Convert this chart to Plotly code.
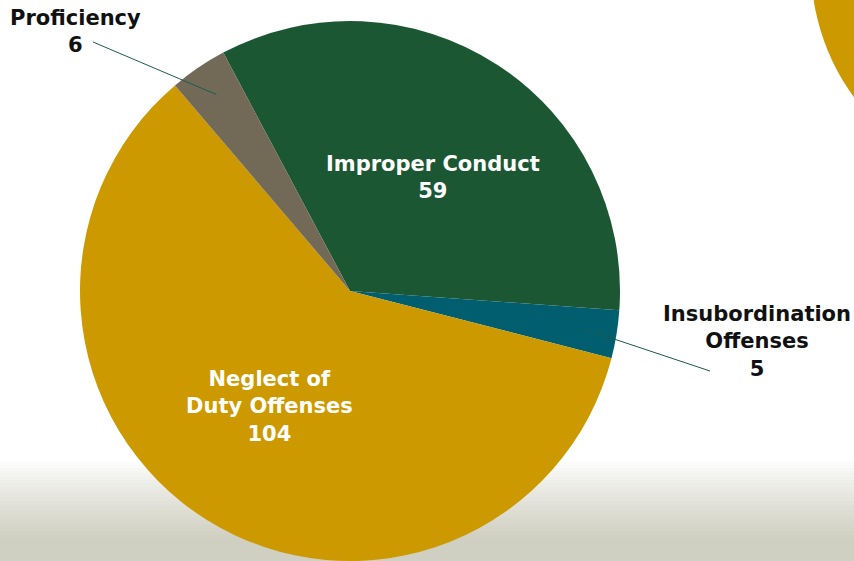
import math
import plotly.graph_objects as go

W, H = 854, 561

labels = ["Improper Conduct", "Insubordination Offenses", "Neglect of Duty Offenses", "Proficiency"]
values = [59, 5, 104, 6]
colors = ["#1c5733", "#005e6e", "#cc9900", "#726a56"]
inside_text = ["Improper Conduct<br>59", None, "Neglect of<br>Duty Offenses<br>104", None]
outside_text = [None, "Insubordination<br>Offenses<br>5", None, "Proficiency<br>6"]

ROTATION = -28  # degrees clockwise from 12 o'clock where the first slice starts

# pie geometry in pixels
CX, CY, R = 350, 291, 270
dom_x = [(CX - R) / W, (CX + R) / W]
dom_y = [1 - (CY + R) / H, 1 - (CY - R) / H]

fig = go.Figure(go.Pie(
    labels=labels,
    values=values,
    marker=dict(colors=colors, line=dict(width=0)),
    sort=False,
    direction="clockwise",
    rotation=ROTATION,
    textinfo="none",
    hoverinfo="label+value",
    showlegend=False,
    domain=dict(x=dom_x, y=dom_y),
))

FONT = "DejaVu Sans"
FSIZE = 21


def polar(angle_deg, frac):
    a = math.radians(angle_deg)
    px = CX + frac * R * math.sin(a)
    py = CY - frac * R * math.cos(a)
    return px / W, 1 - py / H


total = sum(values)
start = ROTATION
annotations = []
shapes = []

# outside label centres (px) and leader line end near the text
out_pos = {1: ((757, 341), (710, 371)), 3: ((75, 31), (93, 42))}


def bold(s):
    return "<br>".join(f"<b>{p}</b>" for p in s.split("<br>"))


for i, v in enumerate(values):
    span = v / total * 360
    mid = start + span / 2
    if inside_text[i]:
        x, y = polar(mid + 3, 0.52)
        annotations.append(dict(x=x, y=y, xref="paper", yref="paper", text=bold(inside_text[i]),
                                xanchor="center", yanchor="middle", showarrow=False,
                                font=dict(family=FONT, size=FSIZE, color="white"), align="center"))
    if outside_text[i]:
        x0, y0 = polar(mid, 0.88)
        (tx, ty), (lx, ly) = out_pos[i]
        shapes.append(dict(type="line", xref="paper", yref="paper", x0=x0, y0=y0,
                           x1=lx / W, y1=1 - ly / H, line=dict(color="#1d5a57", width=1)))
        annotations.append(dict(x=tx / W, y=1 - ty / H, xref="paper", yref="paper",
                                text=bold(outside_text[i]), xanchor="center", yanchor="middle",
                                showarrow=False, font=dict(family=FONT, size=FSIZE, color="#111111"),
                                align="center"))
    start += span

# grass-like misty band at the bottom (decorative)
bg_shapes = []
top, n = 462, 33
for k in range(n):
    t = (k + 0.5) / n
    f = min(1.0, t * 1.3) ** 0.8
    r = int(255 - f * (255 - 208))
    g = int(255 - f * (255 - 208))
    b = int(255 - f * (255 - 194))
    y0 = top + k * (H - top) / n
    y1 = top + (k + 1) * (H - top) / n + 1
    bg_shapes.append(dict(type="rect", xref="paper", yref="paper", x0=0, x1=1,
                          y0=1 - y1 / H, y1=1 - y0 / H, fillcolor=f"rgb({r},{g},{b})",
                          line=dict(width=0), layer="below"))

# big gold circle in the top-right corner (decorative)
gc, gr = (1033, -34), 222
bg_shapes.append(dict(type="circle", xref="paper", yref="paper",
                      x0=(gc[0] - gr) / W, x1=(gc[0] + gr) / W,
                      y0=1 - (gc[1] + gr) / H, y1=1 - (gc[1] - gr) / H,
                      fillcolor="#cc9900", line=dict(width=0), layer="below"))

fig.update_layout(
    width=W, height=H,
    margin=dict(l=0, r=0, t=0, b=0),
    paper_bgcolor="white",
    plot_bgcolor="white",
    annotations=annotations,
    shapes=bg_shapes + shapes,
    font=dict(family=FONT),
)

fig.write_html("out.html", config={"displayModeBar": False},
               post_script="document.body.style.margin='0';")
